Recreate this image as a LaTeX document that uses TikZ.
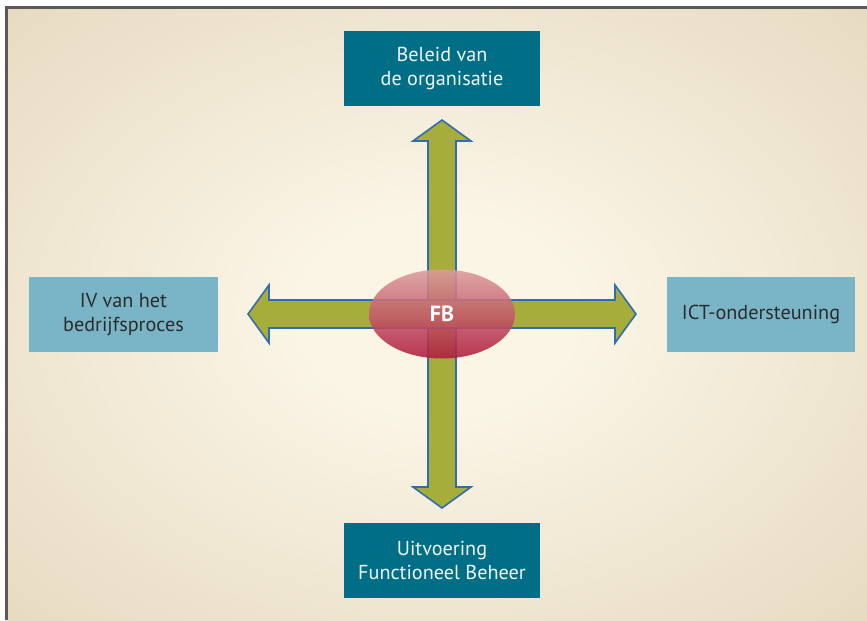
\documentclass[tikz,border=0pt]{standalone}
\usepackage{fontspec}
\setmainfont{PT Sans}
\usetikzlibrary{shapes.geometric}

\definecolor{donker}{HTML}{006E86}
\definecolor{licht}{HTML}{7AB5C7}
\definecolor{olijf}{HTML}{A6AD3B}
\definecolor{pijlrand}{HTML}{2F6DB0}
\definecolor{glowin}{HTML}{FBF5E6}
\definecolor{glowout}{HTML}{D6C5A4}
\definecolor{fbboven}{HTML}{DB9C9C}
\definecolor{fbonder}{HTML}{AF1B3E}
\pgfdeclareradialshading{glow}{\pgfpoint{0bp}{0bp}}{color(0bp)=(glowin); color(8bp)=(glowin); color(58bp)=(glowout); color(72bp)=(glowout)}

\tikzset{
  vak/.style={rectangle,minimum width=3.92cm,minimum height=1.5cm,align=center,
    font=\fontsize{11.5}{13.6}\selectfont},
  vakdonker/.style={vak,fill=donker,text=white!88!licht},
  vaklicht/.style={vak,fill=licht,minimum width=3.78cm,text=black!83},
  pijl/.style={fill=olijf,draw=pijlrand,line width=0.9pt,line join=miter},
}

\begin{document}
\begin{tikzpicture}[x=0.02cm,y=-0.02cm]
\useasboundingbox (0,0) rectangle (867,620);
\shade[shading=glow] (7,8) rectangle (867,620);
\draw[black!65,line width=1.2pt] (6.5,620) -- (6.5,7.5) -- (867,7.5);
% vakken rond FB
\node[vakdonker] (beleid) at (442,68.5) {Beleid van\\de organisatie};
\node[vakdonker] (uitvoering) at (442,560.5) {Uitvoering\\Functioneel Beheer};
\node[vaklicht] (iv) at (123.5,314.5) {IV van het\\bedrijfsproces};
\node[vaklicht] (ict) at (761,314.5) {ICT-ondersteuning};
% pijlen
\coordinate (c) at (442,314);
\foreach \r in {0,90}
  \draw[pijl,shift={(c)},rotate=\r] (0,-194) -- (29,-173) -- (14,-173) -- (14,173) -- (29,173)
    -- (0,194) -- (-29,173) -- (-14,173) -- (-14,-173) -- (-29,-173) -- cycle;
\node[ellipse,minimum width=2.92cm,minimum height=1.78cm,top color=fbboven,
  bottom color=fbonder,fill opacity=0.88,text opacity=1,text=white,
  font=\bfseries\fontsize{12.5}{14}\selectfont] (fb) at (c) {FB};
\end{tikzpicture}
\end{document}
